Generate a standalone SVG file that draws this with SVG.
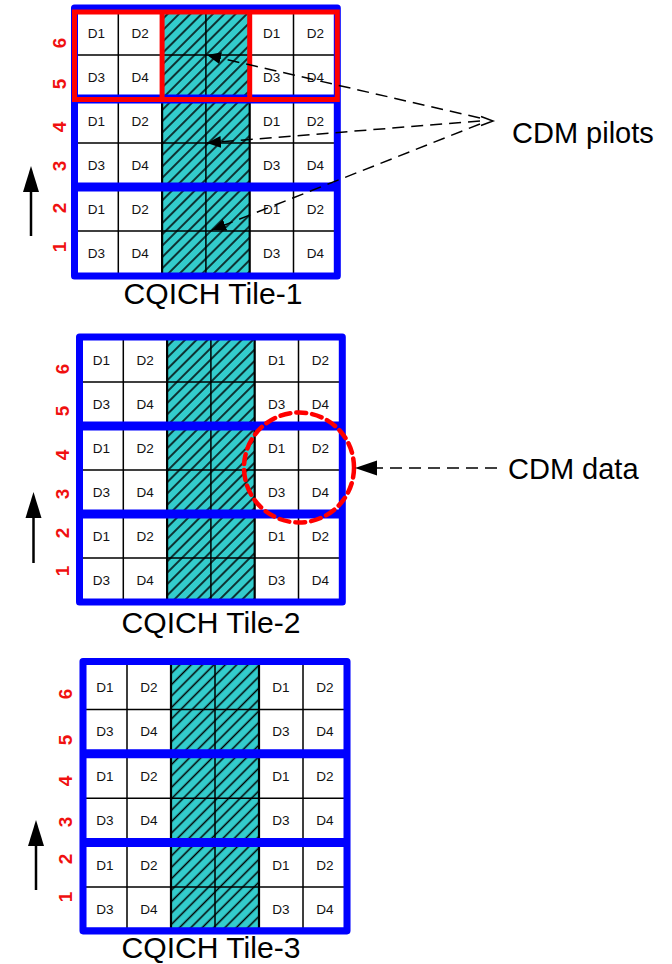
<svg xmlns="http://www.w3.org/2000/svg" width="672" height="964" viewBox="0 0 672 964">
<defs>
<style>
.c{font-family:"Liberation Sans",Arial,sans-serif;font-size:13.5px;fill:#111;text-anchor:middle}
.rl{font-family:"Liberation Sans",Arial,sans-serif;font-size:19px;font-weight:bold;fill:#F01010;text-anchor:middle}
.big{font-family:"Liberation Sans",Arial,sans-serif;font-size:29px;fill:#000}
.grid{stroke:#000;stroke-width:1.5;fill:none}
.pb{stroke:#000;stroke-width:2.2;fill:none}
.blue{stroke:#0000FF;stroke-width:7;fill:none;stroke-linejoin:round}
.bdiv{stroke:#0000FF;stroke-width:9;fill:none}
.red{stroke:#FF0000;stroke-width:5;fill:none}
.dash{stroke:#000;stroke-width:1.5;fill:none;stroke-dasharray:12 7}
.up{stroke:#000;stroke-width:2.5;fill:none}
</style>
<pattern id="hatch" patternUnits="userSpaceOnUse" width="8" height="8" patternTransform="rotate(45)">
<rect width="8" height="8" fill="#33CCCC"/>
<line x1="4" y1="0" x2="4" y2="8" stroke="#000" stroke-width="1.5"/>
</pattern>
<marker id="ah" markerUnits="userSpaceOnUse" markerWidth="15" markerHeight="13" refX="14" refY="6.5" orient="auto">
<path d="M0,0.5 L14,6.5 L0,12.5 z" fill="#000" stroke="none"/>
</marker>
</defs>
<rect width="672" height="964" fill="#fff"/>

<g id="tile1">
<g transform="translate(74.5,11)">
<rect x="87.6" y="0" width="87.6" height="264" fill="url(#hatch)"/>
<path class="grid" d="M0,44H262.8M0,88H262.8M0,132H262.8M0,176H262.8M0,220H262.8M43.8,0V264M131.4,0V264M219,0V264"/>
<path class="pb" d="M87.6,0V264M175.2,0V264"/>
<rect class="blue" x="0" y="-3" width="262.8" height="268"/>
<path class="bdiv" d="M0,88H262.8M0,176H262.8"/>
<rect class="red" x="0" y="1" width="262.8" height="87.5"/>
<path class="red" d="M87.6,1V88.5M175.2,1V88.5"/>
<text class="c" x="21.9" y="26.8">D1</text><text class="c" x="65.7" y="26.8">D2</text><text class="c" x="197.1" y="26.8">D1</text><text class="c" x="240.9" y="26.8">D2</text>
<text class="c" x="21.9" y="70.8">D3</text><text class="c" x="65.7" y="70.8">D4</text><text class="c" x="197.1" y="70.8">D3</text><text class="c" x="240.9" y="70.8">D4</text>
<text class="c" x="21.9" y="114.8">D1</text><text class="c" x="65.7" y="114.8">D2</text><text class="c" x="197.1" y="114.8">D1</text><text class="c" x="240.9" y="114.8">D2</text>
<text class="c" x="21.9" y="158.8">D3</text><text class="c" x="65.7" y="158.8">D4</text><text class="c" x="197.1" y="158.8">D3</text><text class="c" x="240.9" y="158.8">D4</text>
<text class="c" x="21.9" y="202.8">D1</text><text class="c" x="65.7" y="202.8">D2</text><text class="c" x="197.1" y="202.8">D1</text><text class="c" x="240.9" y="202.8">D2</text>
<text class="c" x="21.9" y="246.8">D3</text><text class="c" x="65.7" y="246.8">D4</text><text class="c" x="197.1" y="246.8">D3</text><text class="c" x="240.9" y="246.8">D4</text>
</g>
<text class="rl" transform="translate(59.5,43) rotate(-90)" dy="0.36em">6</text>
<text class="rl" transform="translate(59.5,84) rotate(-90)" dy="0.36em">5</text>
<text class="rl" transform="translate(59.5,127) rotate(-90)" dy="0.36em">4</text>
<text class="rl" transform="translate(59.5,166) rotate(-90)" dy="0.36em">3</text>
<text class="rl" transform="translate(59.5,208) rotate(-90)" dy="0.36em">2</text>
<text class="rl" transform="translate(59.5,247) rotate(-90)" dy="0.36em">1</text>
<line class="up" x1="31" y1="236" x2="31" y2="188"/>
<polygon points="31,166 23,192 39,192" fill="#000"/>
<text class="big" x="123.5" y="304" textLength="179" lengthAdjust="spacingAndGlyphs">CQICH Tile-1</text>
</g>

<g id="tile2">
<g transform="translate(79.5,338)">
<rect x="87.6" y="0" width="87.6" height="264" fill="url(#hatch)"/>
<path class="grid" d="M0,44H262.8M0,88H262.8M0,132H262.8M0,176H262.8M0,220H262.8M43.8,0V264M131.4,0V264M219,0V264"/>
<path class="pb" d="M87.6,0V264M175.2,0V264"/>
<rect class="blue" x="0" y="-1" width="262.8" height="265"/>
<path class="bdiv" d="M0,88H262.8M0,176H262.8"/>
<text class="c" x="21.9" y="26.8">D1</text><text class="c" x="65.7" y="26.8">D2</text><text class="c" x="197.1" y="26.8">D1</text><text class="c" x="240.9" y="26.8">D2</text>
<text class="c" x="21.9" y="70.8">D3</text><text class="c" x="65.7" y="70.8">D4</text><text class="c" x="197.1" y="70.8">D3</text><text class="c" x="240.9" y="70.8">D4</text>
<text class="c" x="21.9" y="114.8">D1</text><text class="c" x="65.7" y="114.8">D2</text><text class="c" x="197.1" y="114.8">D1</text><text class="c" x="240.9" y="114.8">D2</text>
<text class="c" x="21.9" y="158.8">D3</text><text class="c" x="65.7" y="158.8">D4</text><text class="c" x="197.1" y="158.8">D3</text><text class="c" x="240.9" y="158.8">D4</text>
<text class="c" x="21.9" y="202.8">D1</text><text class="c" x="65.7" y="202.8">D2</text><text class="c" x="197.1" y="202.8">D1</text><text class="c" x="240.9" y="202.8">D2</text>
<text class="c" x="21.9" y="246.8">D3</text><text class="c" x="65.7" y="246.8">D4</text><text class="c" x="197.1" y="246.8">D3</text><text class="c" x="240.9" y="246.8">D4</text>
</g>
<text class="rl" transform="translate(62,369) rotate(-90)" dy="0.36em">6</text>
<text class="rl" transform="translate(62,411) rotate(-90)" dy="0.36em">5</text>
<text class="rl" transform="translate(62,455) rotate(-90)" dy="0.36em">4</text>
<text class="rl" transform="translate(62,494) rotate(-90)" dy="0.36em">3</text>
<text class="rl" transform="translate(62,533) rotate(-90)" dy="0.36em">2</text>
<text class="rl" transform="translate(62,571) rotate(-90)" dy="0.36em">1</text>
<line class="up" x1="33.5" y1="563" x2="33.5" y2="515"/>
<polygon points="33.5,492 25.5,518 41.5,518" fill="#000"/>
<text class="big" x="121.5" y="633" textLength="179" lengthAdjust="spacingAndGlyphs">CQICH Tile-2</text>
</g>

<g id="tile3">
<g transform="translate(83,665) scale(1.0046,1.009)">
<rect x="87.6" y="0" width="87.6" height="264" fill="url(#hatch)"/>
<path class="grid" d="M0,44H262.8M0,88H262.8M0,132H262.8M0,176H262.8M0,220H262.8M43.8,0V264M131.4,0V264M219,0V264"/>
<path class="pb" d="M87.6,0V264M175.2,0V264"/>
<rect class="blue" x="0" y="-3.5" width="262.8" height="267"/>
<path class="bdiv" d="M0,88H262.8M0,176H262.8"/>
<text class="c" x="21.9" y="26.8">D1</text><text class="c" x="65.7" y="26.8">D2</text><text class="c" x="197.1" y="26.8">D1</text><text class="c" x="240.9" y="26.8">D2</text>
<text class="c" x="21.9" y="70.8">D3</text><text class="c" x="65.7" y="70.8">D4</text><text class="c" x="197.1" y="70.8">D3</text><text class="c" x="240.9" y="70.8">D4</text>
<text class="c" x="21.9" y="114.8">D1</text><text class="c" x="65.7" y="114.8">D2</text><text class="c" x="197.1" y="114.8">D1</text><text class="c" x="240.9" y="114.8">D2</text>
<text class="c" x="21.9" y="158.8">D3</text><text class="c" x="65.7" y="158.8">D4</text><text class="c" x="197.1" y="158.8">D3</text><text class="c" x="240.9" y="158.8">D4</text>
<text class="c" x="21.9" y="202.8">D1</text><text class="c" x="65.7" y="202.8">D2</text><text class="c" x="197.1" y="202.8">D1</text><text class="c" x="240.9" y="202.8">D2</text>
<text class="c" x="21.9" y="246.8">D3</text><text class="c" x="65.7" y="246.8">D4</text><text class="c" x="197.1" y="246.8">D3</text><text class="c" x="240.9" y="246.8">D4</text>
</g>
<text class="rl" transform="translate(65,694) rotate(-90)" dy="0.36em">6</text>
<text class="rl" transform="translate(65,740) rotate(-90)" dy="0.36em">5</text>
<text class="rl" transform="translate(65,781) rotate(-90)" dy="0.36em">4</text>
<text class="rl" transform="translate(65,822) rotate(-90)" dy="0.36em">3</text>
<text class="rl" transform="translate(65,859) rotate(-90)" dy="0.36em">2</text>
<text class="rl" transform="translate(65,897) rotate(-90)" dy="0.36em">1</text>
<line class="up" x1="36" y1="890" x2="36" y2="843"/>
<polygon points="36,820 28,846 44,846" fill="#000"/>
<text class="big" x="121.5" y="958" textLength="179" lengthAdjust="spacingAndGlyphs">CQICH Tile-3</text>
</g>

<g id="cdm-data-highlight">
<ellipse cx="299" cy="467.5" rx="55" ry="55" fill="none" stroke="#FF0000" stroke-width="4.5" stroke-dasharray="10 6" stroke-linecap="round"/>
</g>

<g id="connectors">
<line class="dash" x1="480" y1="118" x2="207" y2="55" marker-end="url(#ah)"/>
<line class="dash" x1="480" y1="121" x2="207" y2="143" marker-end="url(#ah)"/>
<line class="dash" x1="480" y1="124" x2="212" y2="230" marker-end="url(#ah)"/>
<polyline points="481,116.5 493,121 481,125.5" fill="none" stroke="#000" stroke-width="1.5"/>
<line class="dash" x1="497" y1="468" x2="377" y2="468"/>
<polygon points="355,468 377,460.5 377,475.5" fill="#000"/>
</g>

<g id="labels">
<text class="big" x="512" y="143">CDM pilots</text>
<text class="big" x="508" y="479">CDM data</text>
</g>
</svg>
